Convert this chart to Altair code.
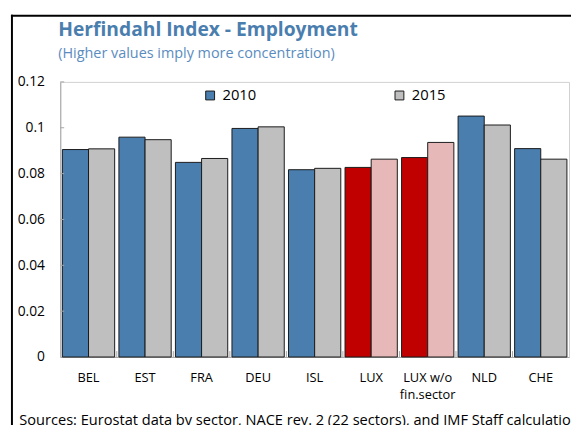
import altair as alt
import pandas as pd

countries = ["BEL", "EST", "FRA", "DEU", "ISL", "LUX", "LUX w/o fin.sector", "NLD", "CHE"]
v2010 = [0.0905, 0.0959, 0.0849, 0.0997, 0.0817, 0.0827, 0.0870, 0.1051, 0.0909]
v2015 = [0.0908, 0.0948, 0.0866, 0.1004, 0.0823, 0.0863, 0.0936, 0.1012, 0.0863]
years = ["2010", "2015"]
highlight = ["LUX", "LUX w/o fin.sector"]
y_ticks = [0, 0.02, 0.04, 0.06, 0.08, 0.1, 0.12]

TITLE = "Herfindahl Index - Employment"
SUBTITLE = "(Higher values imply more concentration)"
FOOTER = "Sources: Eurostat data by sector, NACE rev. 2 (22 sectors), and IMF Staff calculations"

rows = []
for c, a, b in zip(countries, v2010, v2015):
    for yr, v in zip(years, (a, b)):
        key = yr + (" LUX" if c in highlight else "")
        rows.append({"country": c, "year": yr, "value": v, "key": key})
df = pd.DataFrame(rows)

FONT = "Open Sans"
x_scale = alt.Scale(domain=countries, paddingInner=0.075, paddingOuter=0.0375)

bars = alt.Chart(df).mark_bar(stroke="#1a1a1a", strokeWidth=1).encode(
    x=alt.X("country:N", scale=x_scale, sort=countries,
            axis=alt.Axis(
                title=FOOTER, titleX=-42, titleY=68, titleAlign="left",
                titleBaseline="alphabetic", titleFontWeight="normal",
                titleFontSize=14.8, titleColor="black", titleFont=FONT,
                labelAngle=0, labelFontSize=13, labelFont=FONT, labelColor="black",
                labelPadding=15, labelLineHeight=17, tickSize=0, domainColor="#A6A6A6",
                labelExpr="datum.value == 'LUX w/o fin.sector' ? ['LUX w/o', 'fin.sector'] : datum.value",
            )),
    xOffset=alt.XOffset("year:N", scale=alt.Scale(domain=years, paddingInner=0, paddingOuter=0)),
    y=alt.Y("value:Q", scale=alt.Scale(domain=[0, 0.12], nice=False),
            axis=alt.Axis(title=None, values=y_ticks, labelExpr="'' + datum.value", grid=False,
                          tickSize=0, labelPadding=16, labelFontSize=14, labelFont=FONT,
                          labelColor="black", domainColor="#A6A6A6")),
    color=alt.Color("key:N",
                    scale=alt.Scale(domain=["2010", "2015", "2010 LUX", "2015 LUX"],
                                    range=["#4A7EAE", "#BFBFBF", "#C00000", "#E6B8B7"]),
                    legend=alt.Legend(
                        title=None, values=years, orient="none", direction="horizontal",
                        legendX=144.5, legendY=6, padding=0, columnPadding=137,
                        symbolType="square", symbolSize=81, symbolStrokeColor="#1a1a1a",
                        symbolStrokeWidth=1, labelFontSize=15, labelFont=FONT,
                        labelColor="black", labelOffset=5,
                    )),
)

ytick_df = pd.DataFrame({"v": y_ticks[1:]})
yticks = alt.Chart(ytick_df).mark_rule(color="#A6A6A6", strokeWidth=1).encode(
    y="v:Q", x=alt.value(0), x2=alt.value(4)
)

xtick_df = pd.DataFrame({"country": countries[1:]})
xticks = alt.Chart(xtick_df).mark_rule(color="#A6A6A6", strokeWidth=1, xOffset=-2.15).encode(
    x=alt.X("country:N", bandPosition=0, sort=countries),
    y=alt.value(279), y2=alt.value(273)
)

one = alt.Data(values=[{}])
frame_v = alt.Chart(one).mark_rule(color="black", strokeWidth=2).encode(
    x=alt.value(-49), y=alt.value(-68), y2=alt.value(420)
)
frame_h = alt.Chart(one).mark_rule(color="black", strokeWidth=2).encode(
    x=alt.value(-50), x2=alt.value(620), y=alt.value(-67)
)

chart = alt.layer(bars, yticks, xticks, frame_v, frame_h).properties(
    width=516, height=279,
    padding={"left": 53, "top": 72, "right": 2, "bottom": 66},
    autosize=alt.AutoSizeParams(type="none"),
    title=alt.TitleParams(
        text=TITLE, subtitle=SUBTITLE, anchor="start", frame="group", dx=-2, dy=52,
        font=FONT, fontSize=19.5, fontWeight="bold", color="#4A7EAE",
        subtitleFont=FONT, subtitleFontSize=14.6, subtitleColor="#5A8CC0",
        subtitlePadding=5,
    ),
).configure_view(stroke="#D0D0D0", strokeWidth=1)

chart.save("out.html", embed_options={"renderer": "svg", "actions": False})
